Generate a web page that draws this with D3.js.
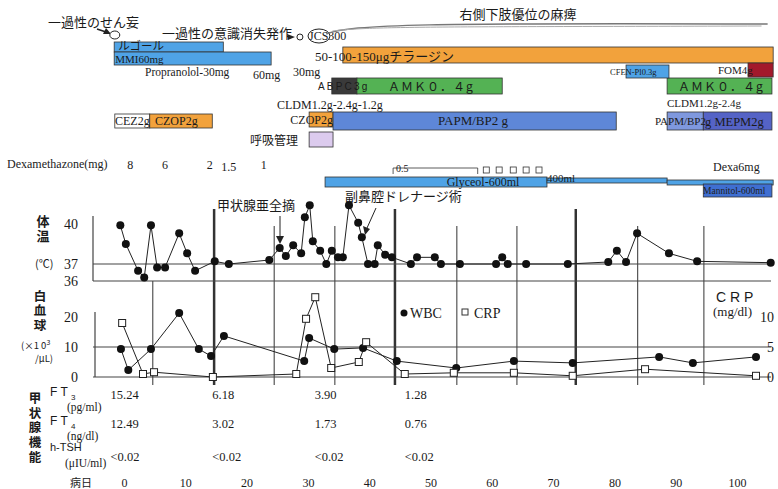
<!DOCTYPE html>
<html>
<head>
<meta charset="utf-8">
<script src="https://cdn.jsdelivr.net/npm/d3@7"></script>
<style>
  body { margin: 0; background: #fff; }
  text { font-family: "Liberation Serif", "DejaVu Serif", serif; fill: #1a1a1a; }
  .jp { font-family: "Noto Sans CJK JP", sans-serif; }
  .sans { font-family: "Liberation Sans", Arial, sans-serif; }
  .vert { font-family: "Noto Sans CJK JP", sans-serif; writing-mode: vertical-rl; font-weight: bold; }
</style>
</head>
<body>
<div id="chart"></div>
<script>
var width = 778;
var height = 489;

// hospital day ticks
var dayTicks = [0, 10, 20, 30, 40, 50, 60, 70, 80, 90, 100];

// body temperature
var tempDays = [-0.6, 0.3, 2.3, 3.3, 4.4, 5.4, 6.7, 9.0, 10.3, 11.6, 14.8, 17.1, 23.7, 25.4, 26.4, 27.6, 28.9, 29.5, 30.3, 30.8,
  32.0, 33.0, 33.9, 34.9, 35.7, 36.7, 38.2, 38.8, 39.8, 40.9, 41.4, 42.6, 43.7, 46.8, 47.8, 50.7, 51.7, 54.8, 60.7, 61.7,
  62.6, 65.6, 72.4, 79.0, 80.4, 81.9, 83.7, 88.9, 93.5, 105.5];
var tempVals = [39.9, 38.5, 36.6, 36.2, 39.9, 36.8, 36.8, 39.3, 37.8, 36.6, 37.2, 37.0, 37.3, 38.2, 37.6, 38.4, 37.8, 40.5, 41.4, 38.7,
  38.0, 37.0, 38.0, 37.5, 37.5, 41.4, 40.1, 39.0, 37.0, 37.0, 38.4, 37.7, 37.5, 37.0, 37.5, 37.5, 37.0, 37.0, 37.0, 37.5,
  37.0, 37.0, 37.0, 37.15, 38.0, 37.15, 39.3, 37.8, 37.2, 37.1];

// WBC (x10^3/uL)
var wbcDays = [-0.5, 0.7, 4.4, 9.0, 12.2, 14.2, 16.3, 29.4, 30.2, 34.3, 39.0, 44.5, 54.2, 63.6, 73.2, 87.3, 92.8, 103.1];
var wbcVals = [9.3, 2.3, 9.3, 21.3, 9.3, 7.0, 13.7, 5.3, 13.0, 9.3, 9.7, 5.3, 3.0, 5.3, 4.7, 6.7, 4.7, 6.7];

// CRP (mg/dl)
var crpDays = [-0.3, 3.1, 4.9, 14.5, 28.1, 29.7, 31.2, 33.8, 38.3, 39.5, 45.8, 53.8, 63.6, 73.2, 85.0, 103.1];
var crpVals = [9.0, 0.5, 0.8, 0.0, 0.5, 9.7, 13.3, 1.5, 2.5, 5.8, 0.5, 0.7, 0.7, 0.2, 1.3, 0.2];

// weekly grid lines (days) and which are heavy
var gridDays = [4.7, 14.7, 24.5, 34.4, 44.2, 54.3, 64.1, 73.7, 83.8, 94.6];
var gridHeavy = [false, true, false, false, true, false, false, true, false, false];

// thyroid function table
var thyroidDays = [-2.2, 14.4, 31.1, 45.8];
var ft3Vals = ["15.24", "6.18", "3.90", "1.28"];
var ft4Vals = ["12.49", "3.02", "1.73", "0.76"];
var tshVals = ["<0.02", "<0.02", "<0.02", "<0.02"];

// dexamethazone taper
var dexaDays = [1.0, 6.7, 14.0, 17.1, 22.8];
var dexaVals = ["8", "6", "2", "1.5", "1"];
var dexaHalfDays = [59.1, 61.2, 63.5, 65.6, 67.7];

// treatment bars
var drugLane = ["lugol", "mmi", "thyr", "abx1", "abx1", "abx1", "cfen", "fom", "abx2", "abx2", "czop", "papm", "papm", "papm", "resp", "gly", "gly2", "gly3", "mann"];
var drugStart = [-1.6, -1.6, 35.7, 33.9, 38.0, 88.6, 81.9, 101.8, -1.5, 4.2, 30.2, 34.1, 88.6, 94.5, 30.2, 32.8, 69.0, 88.6, 94.5];
var drugEnd = [16.2, 24.0, 105.9, 38.0, 61.7, 105.7, 88.9, 105.9, 4.2, 14.4, 34.1, 80.3, 94.5, 105.7, 34.1, 69.0, 88.6, 105.9, 105.7];
var drugKind = ["blue", "blue", "orange", "dark", "green", "green", "blue", "red", "none", "orange", "orange", "papm", "papmR", "mepm", "resp", "blue", "blue", "blue", "mann"];

var laneY = { lugol: [42, 10], mmi: [52, 13], thyr: [47, 16], abx1: [78, 16], cfen: [65, 13], fom: [63, 14],
  abx2: [114, 14], czop: [112, 15], papm: [112, 18], resp: [132, 15], gly: [177, 10], gly2: [178, 5], gly3: [180, 5], mann: [184, 13] };
var kindColor = { blue: "#4fa3e6", orange: "#f2a23c", dark: "#3a3a3a", green: "#54b254", red: "#a3192b", none: "#ffffff",
  papm: "#5e87d8", papmR: "#7f98de", mepm: "#5563c6", resp: "#dccbee", mann: "#3f6fd2" };

var x = d3.scaleLinear().domain([0, 100]).range([124, 737]);
var yTemp = d3.scaleLinear().domain([36, 37, 40]).range([281, 264, 224]);
var yWbc = d3.scaleLinear().domain([0, 20]).range([377, 317]);
var yCrp = d3.scaleLinear().domain([0, 10]).range([377, 317]);

var svg = d3.select("#chart").append("svg")
  .attr("width", width)
  .attr("height", height);

function label(txt, px, py, size, cls, anchor) {
  return svg.append("text")
    .attr("x", px).attr("y", py)
    .attr("class", cls || null)
    .attr("font-size", size)
    .attr("text-anchor", anchor || "start")
    .text(txt);
}

// vertical japanese heading (one text, top-down)
function vlabel(txt, px, py, size, gap) {
  return label(txt, px, py, size, "vert").attr("letter-spacing", gap);
}

function styleAxis(g, anchor) {
  g.select(".domain").remove();
  g.attr("font-family", "Liberation Serif, serif");
  g.selectAll("text")
    .attr("font-size", 14)
    .attr("fill", "#1a1a1a")
    .style("font-family", "'Liberation Serif', serif");
  if (anchor) g.selectAll("text").attr("text-anchor", anchor);
}

// ---- top annotations ----
label("一過性のせん妄", 48, 27, 13, "jp");
svg.append("line").attr("x1", 97).attr("y1", 29).attr("x2", 109).attr("y2", 33)
  .attr("stroke", "#222").attr("stroke-width", 1.5);
svg.append("path").attr("d", "M111,34 L103,34 L106,28 Z").attr("fill", "#222");
svg.append("ellipse").attr("cx", x(-1.5)).attr("cy", 35).attr("rx", 5).attr("ry", 4)
  .attr("fill", "#fff").attr("stroke", "#222");

label("一過性の意識消失発作", 162, 38, 13, "jp");
svg.append("path").attr("d", "M287,34 L295,37 L288,40 Z").attr("fill", "#222");
svg.append("circle").attr("cx", x(28.7)).attr("cy", 37).attr("r", 3)
  .attr("fill", "#fff").attr("stroke", "#222");
label("JCS300", 309, 40, 12);
svg.append("ellipse").attr("cx", 319).attr("cy", 36).attr("rx", 11).attr("ry", 7)
  .attr("fill", "none").attr("stroke", "#222");

// paralysis stroke line
svg.append("path")
  .attr("d", "M" + x(33) + ",34 C" + x(37) + ",24 " + x(50) + ",23 " + x(105) + ",24")
  .attr("fill", "none").attr("stroke", "#777").attr("stroke-width", 1.5);
svg.append("path")
  .attr("d", "M" + x(34) + ",31 C" + x(40) + ",26 " + x(55) + ",27 " + x(104) + ",26")
  .attr("fill", "none").attr("stroke", "#aaa").attr("stroke-width", 1);
label("右側下肢優位の麻痺", 518, 19, 13, "jp", "middle");

// ---- treatment bars ----
svg.append("g").selectAll("rect")
  .data(drugLane)
  .enter()
  .append("rect")
  .attr("x", function(d, i) { return x(drugStart[i]); })
  .attr("width", function(d, i) { return x(drugEnd[i]) - x(drugStart[i]); })
  .attr("y", function(d) { return laneY[d][0]; })
  .attr("height", function(d) { return laneY[d][1]; })
  .attr("fill", function(d, i) { return kindColor[drugKind[i]]; })
  .attr("stroke", "#333")
  .attr("stroke-width", 0.8);

label("ルゴール", x(-1.6) + 4, 50, 11.5, "jp");
label("MMI60mg", x(-1.6) + 1, 63, 11);
label("Propranolol-30mg", 145, 76, 11.5);
label("60mg", 253, 79, 12);
label("30mg", 293, 76, 12);
var thyrText = label("", 315, 61, 13);
thyrText.append("tspan").text("50-100-150μg");
thyrText.append("tspan").attr("class", "jp").text("チラージン");
label("ABPC3g", 318, 90, 10, "sans").attr("letter-spacing", 2.2);
label("ＡＭＫ０．４g", 388, 91, 12, "jp").attr("letter-spacing", 1);
label("ＡＭＫ０．４g", 678, 91, 12, "jp").attr("letter-spacing", 1);
label("CFEN-Pl0.3g", 610, 75, 8.5);
label("FOM4g", 718, 74, 11);
label("CLDM1.2g-2.4g-1.2g", 277, 109, 12);
label("CLDM1.2g-2.4g", 667, 107, 11);
label("CEZ2g", 115, 125, 12);
label("CZOP2g", 155, 125, 12);
label("CZOP2g", x(34.1), 124, 12, null, "end");
label("PAPM/BP2 g", 473, 125, 13, null, "middle");
label("PAPM/BP2", 655, 125, 11);
label("g MEPM2g", 705, 126, 12.5);
label("呼吸管理", 250, 145, 12, "jp");

// dexamethazone row
label("Dexamethazone(mg)", 7, 168, 12);
svg.append("g").selectAll("text")
  .data(dexaVals)
  .enter()
  .append("text")
  .attr("x", function(d, i) { return x(dexaDays[i]); })
  .attr("y", function(d, i) { return i === 3 ? 171 : 169; })
  .attr("font-size", 12)
  .attr("text-anchor", "middle")
  .text(function(d) { return d; });
svg.append("path")
  .attr("d", "M" + x(43.9) + ",174 V168 H" + x(57.7) + " V174")
  .attr("fill", "none").attr("stroke", "#333").attr("stroke-width", 0.8);
label("0.5", x(43.9) + 3, 172, 10);
svg.append("g").selectAll("rect")
  .data(dexaHalfDays)
  .enter()
  .append("rect")
  .attr("x", function(d) { return x(d) - 3; })
  .attr("y", 167)
  .attr("width", 6).attr("height", 6)
  .attr("fill", "#fff").attr("stroke", "#333").attr("stroke-width", 0.8);
label("Glyceol-600ml", 483, 186, 12, null, "middle");
label("400ml", 547, 182, 11);
label("Dexa6mg", 713, 171, 12);
label("Mannitol-600ml", 703, 194, 9.5).style("fill", "#222");

// ---- surgery annotations ----
label("甲状腺亜全摘", 217, 210, 13, "jp");
svg.append("line").attr("x1", 280).attr("y1", 216).attr("x2", 280).attr("y2", 238)
  .attr("stroke", "#222");
svg.append("path").attr("d", "M276,236 L284,236 L280,244 Z").attr("fill", "#222");
label("副鼻腔ドレナージ術", 345, 201, 13, "jp");
svg.append("line").attr("x1", 376).attr("y1", 208).attr("x2", 367).attr("y2", 228)
  .attr("stroke", "#222");
svg.append("path").attr("d", "M363,226 L370,229 L365,235 Z").attr("fill", "#222");

// ---- grid ----
svg.append("g").selectAll("line")
  .data(gridDays)
  .enter()
  .append("line")
  .attr("x1", function(d) { return x(d); })
  .attr("x2", function(d) { return x(d); })
  .attr("y1", function(d, i) { return i === 0 ? yTemp(36) : (gridHeavy[i] ? 209 : 226); })
  .attr("y2", 385)
  .attr("stroke", "#333")
  .attr("stroke-width", function(d, i) { return gridHeavy[i] ? 2.5 : 1; });

var hLines = [yTemp(37), yTemp(36), yWbc(10), yWbc(0)];
svg.append("g").selectAll("line")
  .data(hLines)
  .enter()
  .append("line")
  .attr("x1", 93).attr("x2", 771)
  .attr("y1", function(d) { return d; })
  .attr("y2", function(d) { return d; })
  .attr("stroke", "#444").attr("stroke-width", 1.2);
svg.append("line").attr("x1", 93).attr("x2", 93).attr("y1", 216).attr("y2", yTemp(36))
  .attr("stroke", "#444").attr("stroke-width", 1.2);
svg.append("line").attr("x1", 95).attr("x2", 95).attr("y1", 312).attr("y2", yWbc(0))
  .attr("stroke", "#444").attr("stroke-width", 1.2);

// ---- temperature ----
var tempAxis = svg.append("g")
  .attr("transform", "translate(93,0)")
  .call(d3.axisLeft(yTemp).tickValues([36, 37, 40]).tickFormat(d3.format("d")).tickSize(0).tickPadding(15));
styleAxis(tempAxis);
vlabel("体温", 43, 215, 13, 2);
label("(℃)", 35, 268, 11, "jp");

var tempLine = d3.line()
  .x(function(d, i) { return x(tempDays[i]); })
  .y(function(d) { return yTemp(d); });
svg.append("path")
  .datum(tempVals)
  .attr("d", tempLine)
  .attr("fill", "none").attr("stroke", "#222").attr("stroke-width", 1);
svg.append("g").selectAll("circle")
  .data(tempVals)
  .enter()
  .append("circle")
  .attr("cx", function(d, i) { return x(tempDays[i]); })
  .attr("cy", function(d) { return yTemp(d); })
  .attr("r", 4)
  .attr("fill", "#111");

// ---- WBC / CRP ----
var wbcAxis = svg.append("g")
  .attr("transform", "translate(93,0)")
  .call(d3.axisLeft(yWbc).tickValues([0, 10, 20]).tickSize(0).tickPadding(15));
styleAxis(wbcAxis);
var crpAxis = svg.append("g")
  .attr("transform", "translate(760,0)")
  .call(d3.axisRight(yCrp).tickValues([0, 5, 10]).tickSize(0).tickPadding(14));
styleAxis(crpAxis, "end");

vlabel("白血球", 40, 290, 12.5, 1.8);
var unit = label("(×1 0", 21, 349, 9.5, "jp");
unit.append("tspan").attr("dy", -4).attr("font-size", 7).text("3");
label("/μL)", 35, 362, 9.5, "jp");
label("C R P", 716, 302, 14, "sans");
label("(mg/dl)", 713, 316, 13);

svg.append("circle").attr("cx", 404).attr("cy", 313).attr("r", 3.5).attr("fill", "#111");
label("WBC", 410, 318, 14);
svg.append("rect").attr("x", 462).attr("y", 309).attr("width", 6).attr("height", 6)
  .attr("fill", "#fff").attr("stroke", "#333");
label("CRP", 474, 318, 14);

var wbcLine = d3.line()
  .x(function(d, i) { return x(wbcDays[i]); })
  .y(function(d) { return yWbc(d); });
svg.append("path")
  .datum(wbcVals)
  .attr("d", wbcLine)
  .attr("fill", "none").attr("stroke", "#222").attr("stroke-width", 1);

var crpLine = d3.line()
  .x(function(d, i) { return x(crpDays[i]); })
  .y(function(d) { return yCrp(d); });
svg.append("path")
  .datum(crpVals)
  .attr("d", crpLine)
  .attr("fill", "none").attr("stroke", "#222").attr("stroke-width", 1);

svg.append("g").selectAll("circle")
  .data(wbcVals)
  .enter()
  .append("circle")
  .attr("cx", function(d, i) { return x(wbcDays[i]); })
  .attr("cy", function(d) { return yWbc(d); })
  .attr("r", 4)
  .attr("fill", "#111");
svg.append("g").selectAll("rect")
  .data(crpVals)
  .enter()
  .append("rect")
  .attr("x", function(d, i) { return x(crpDays[i]) - 3.5; })
  .attr("y", function(d) { return yCrp(d) - 3.5; })
  .attr("width", 7).attr("height", 7)
  .attr("fill", "#fff").attr("stroke", "#222");

// ---- thyroid function table ----
vlabel("甲状腺機能", 35, 392, 12.5, 2.2);
var ft3 = label("F T ", 50, 396, 12, "sans");
ft3.append("tspan").attr("dy", 4).attr("font-size", 8).text("3");
label("(pg/ml)", 67, 411, 11.5);
var ft4 = label("F T ", 50, 425, 12, "sans");
ft4.append("tspan").attr("dy", 4).attr("font-size", 8).text("4");
label("(ng/dl)", 67, 440, 11.5);
label("h-TSH", 50, 451, 11, "sans");
label("(μIU/ml)", 65, 467, 11.5);

var rows = [[ft3Vals, 399], [ft4Vals, 428], [tshVals, 461]];
rows.forEach(function(r) {
  svg.append("g").selectAll("text")
    .data(r[0])
    .enter()
    .append("text")
    .attr("x", function(d, i) { return x(thyroidDays[i]); })
    .attr("y", r[1])
    .attr("font-size", 12.5)
    .text(function(d) { return d; });
});

// ---- day axis ----
label("病日", 70, 487, 11, "jp");
var dayAxis = svg.append("g")
  .attr("transform", "translate(0,478)")
  .call(d3.axisBottom(x).tickValues(dayTicks).tickSize(0).tickPadding(0));
dayAxis.select(".domain").remove();
dayAxis.attr("font-family", "Liberation Serif, serif");
dayAxis.selectAll("text").attr("font-size", 12).style("font-family", "'Liberation Serif', serif").attr("fill", "#1a1a1a");
</script>
</body>
</html>
